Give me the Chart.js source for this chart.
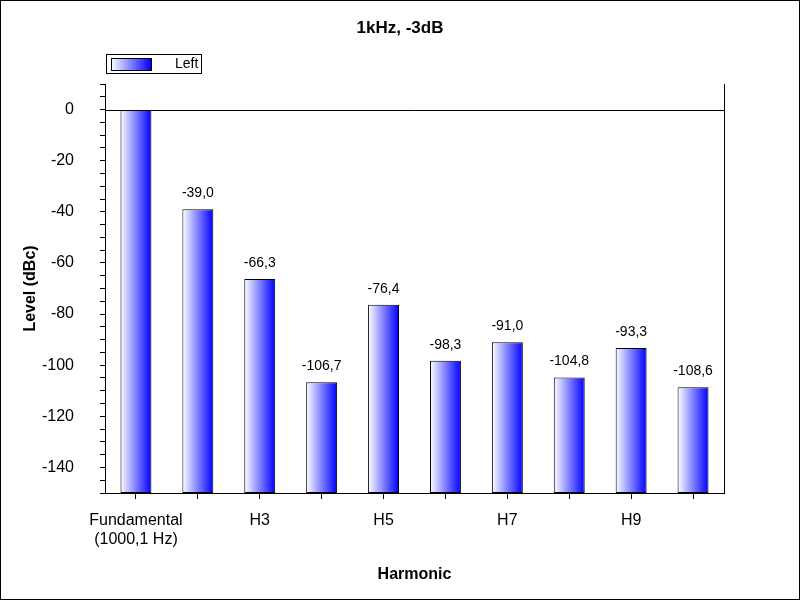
<!DOCTYPE html>
<html><head><meta charset="utf-8">
<script src="https://cdn.jsdelivr.net/npm/chart.js@4/dist/chart.umd.min.js"></script>
<style>body{margin:0;background:#fff}canvas{display:block}</style>
</head><body>
<canvas id="c" width="800" height="600"></canvas>
<script>
const categories = ["Fundamental","H2","H3","H4","H5","H6","H7","H8","H9","H10"];
const shownLabels = {"Fundamental":["Fundamental","(1000,1 Hz)"],"H3":"H3","H5":"H5","H7":"H7","H9":"H9"};
const levels = [0,-39.0,-66.3,-106.7,-76.4,-98.3,-91.0,-104.8,-93.3,-108.6];
const yMin = -150, yMax = 10;
const FONT = "'Liberation Sans', Arial, sans-serif";

function grad(ctx, x0, x1){
  const g = ctx.createLinearGradient(x0,0,x1,0);
  g.addColorStop(0,'#ffffff'); g.addColorStop(1,'#0000ff'); return g;
}
function barFill(c){
  const chart = c.chart, xs = chart.scales.x;
  if(!chart.chartArea || !xs) return '#8080ff';
  const x = xs.getPixelForValue(c.dataIndex);
  const w = (chart.chartArea.width/categories.length)*0.5;
  return grad(chart.ctx, x-w/2, x+w/2);
}
const deco = {
  id:'deco',
  beforeDatasetsDraw(chart){
    const ctx = chart.ctx, a = chart.chartArea;
    const y0 = chart.scales.y.getPixelForValue(0);
    ctx.save(); ctx.strokeStyle='#000'; ctx.lineWidth=1;
    ctx.beginPath(); ctx.moveTo(a.left,Math.round(y0)+0.5); ctx.lineTo(a.right,Math.round(y0)+0.5); ctx.stroke();
    ctx.restore();
  },
  afterDraw(chart){
    const ctx = chart.ctx, a = chart.chartArea;
    ctx.save();
    ctx.strokeStyle='#000'; ctx.lineWidth=1;
    ctx.strokeRect(0.5,0.5,799,599);
    ctx.beginPath(); ctx.moveTo(a.right+0.5,a.top); ctx.lineTo(a.right+0.5,a.bottom); ctx.stroke();
    ctx.fillStyle='#000'; ctx.font='bold 17px '+FONT; ctx.textAlign='center'; ctx.textBaseline='middle';
    ctx.fillText('1kHz, -3dB', 400, 28);
    ctx.strokeRect(106.5,54.5,95,19);
    ctx.fillStyle = grad(ctx,111,151); ctx.fillRect(111,58,40,12);
    ctx.strokeStyle='#000'; ctx.strokeRect(111.5,58.5,40,12);
    ctx.fillStyle='#000'; ctx.font='14px '+FONT; ctx.textAlign='left';
    ctx.fillText('Left', 175, 64);
    const ys = chart.scales.y, xs = chart.scales.x;
    ctx.font='14px '+FONT; ctx.textAlign='center'; ctx.textBaseline='bottom';
    levels.forEach((v,i)=>{
      if(i===0) return;
      ctx.fillText(v.toFixed(1).replace('.',','), xs.getPixelForValue(i), ys.getPixelForValue(v)-9);
    });
    ctx.restore();
  }
};
new Chart(document.getElementById('c'),{
  type:'bar',
  data:{labels:categories,datasets:[{label:'Left',data:levels.map(v=>[yMin,v]),
    backgroundColor:barFill,
    borderColor:'#000',borderWidth:1,borderSkipped:false,barPercentage:0.5,categoryPercentage:1}]},
  options:{responsive:false,animation:false,
    layout:{padding:{left:17,top:84,right:76,bottom:12}},
    plugins:{legend:{display:false},title:{display:false},tooltip:{enabled:false}},
    scales:{
      x:{offset:true,
        grid:{offset:false,drawOnChartArea:false,color:'#000',tickLength:6},
        border:{color:'#000'},
        ticks:{color:'#000',font:{size:16,family:FONT},maxRotation:0,autoSkip:false,padding:12,
          callback:(v,i)=>shownLabels[categories[i]]||''},
        title:{display:true,text:'Harmonic',color:'#000',font:{size:16,weight:'bold',family:FONT},padding:{top:10}},
        afterFit:s=>{s.height=95;}
      },
      y:{min:yMin,max:yMax,
        grid:{drawOnChartArea:false,color:'#000',tickLength:5},
        border:{color:'#000'},
        ticks:{stepSize:5,autoSkip:false,color:'#000',font:{size:16,family:FONT},padding:26,
          callback:v=>(v%20===0 && v<=0)?String(v):''},
        title:{display:true,text:'Level (dBc)',color:'#000',font:{size:16,weight:'bold',family:FONT},padding:{bottom:6}},
        afterFit:s=>{s.width=88;}
      }
    }
  },
  plugins:[deco]
});
</script>
</body></html>
